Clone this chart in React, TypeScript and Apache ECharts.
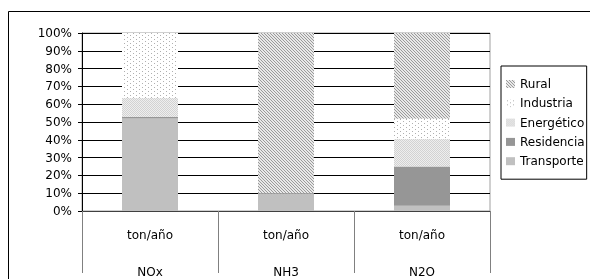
import React, { useEffect, useRef } from "react";
import * as echarts from "echarts";

const categories = ["NOx", "NH3", "N2O"];
const unitLabel = "ton/año";
const yTicks = [0, 10, 20, 30, 40, 50, 60, 70, 80, 90, 100];
const transporte = [52, 10, 3];
const residencia = [1, 0, 22];
const energetico = [10.5, 0, 15.5];
const industria = [36.5, 0, 11.3];
const rural = [0, 90, 48.2];
const legendOrder = ["Rural", "Industria", "Energético", "Residencia", "Transporte"];

function makeTile(w: number, h: number, bg: string, fg: string, on: (x: number, y: number) => boolean) {
  const c = document.createElement("canvas");
  c.width = w;
  c.height = h;
  const ctx = c.getContext("2d")!;
  ctx.fillStyle = bg;
  ctx.fillRect(0, 0, w, h);
  ctx.fillStyle = fg;
  for (let y = 0; y < h; y++) {
    for (let x = 0; x < w; x++) {
      if (on(x, y)) ctx.fillRect(x, y, 1, 1);
    }
  }
  return c;
}

export default function App() {
  const ref = useRef<HTMLDivElement>(null);
  useEffect(() => {
    if (!ref.current) return;
    const chart = echarts.init(ref.current, null, { renderer: "svg" });
    const font = "DejaVu Sans";
    const ruralTile = makeTile(3, 3, "#e8e8e8", "#9a9a9a", (x, y) => (x - y + 3) % 3 === 0);
    const industriaTile = makeTile(6, 4, "#ffffff", "#b0b0b0", (x, y) => (x === 1 && y === 1) || (x === 4 && y === 3));
    const energeticoTile = makeTile(2, 2, "#eeeeee", "#d2d2d2", (x, y) => x === y);
    const pat = (c: HTMLCanvasElement) => ({ image: c, repeat: "repeat" } as any);

    const mk = (name: string, data: number[], color: any) => ({
      name,
      type: "bar",
      stack: "total",
      barWidth: 56,
      data,
      itemStyle: { color },
      emphasis: { disabled: true },
    });

    chart.setOption({
      animation: false,
      textStyle: { fontFamily: font },
      graphic: [
        {
          type: "rect",
          shape: { x: 8.5, y: 11.5, width: 800, height: 400 },
          style: { fill: "none", stroke: "#000", lineWidth: 1 },
          silent: true,
          z: 0,
        },
      ],
      grid: {
        left: 82,
        top: 33,
        width: 408,
        height: 178,
        show: true,
        borderColor: "#a0a0a0",
        borderWidth: 1,
        backgroundColor: "transparent",
        outerBoundsMode: "none",
        containLabel: false,
      },
      legend: {
        orient: "vertical",
        left: 501,
        top: 66,
        padding: [11, 2, 11, 5],
        itemWidth: 9,
        itemHeight: 8,
        itemGap: 5.3,
        icon: "rect",
        borderColor: "#000",
        borderWidth: 1,
        data: legendOrder,
        textStyle: { fontFamily: font, fontSize: 12, color: "#000", lineHeight: 14 },
        selectedMode: false,
      },
      xAxis: [
        {
          type: "category",
          data: categories,
          position: "bottom",
          axisLine: { lineStyle: { color: "#404040", width: 1 } },
          axisTick: { show: true, length: 62, alignWithLabel: false, interval: 0, lineStyle: { color: "#808080" } },
          axisLabel: {
            formatter: () => unitLabel,
            fontFamily: font,
            fontSize: 12,
            color: "#000",
            verticalAlign: "middle",
            margin: 24,
            interval: 0,
          },
        },
        {
          type: "category",
          data: categories,
          position: "bottom",
          offset: 0,
          axisLine: { show: false },
          axisTick: { show: false },
          splitLine: { show: false },
          axisLabel: {
            fontFamily: font,
            fontSize: 12,
            color: "#000",
            verticalAlign: "middle",
            margin: 61,
            interval: 0,
          },
        },
      ],
      yAxis: {
        type: "value",
        min: yTicks[0],
        max: yTicks[yTicks.length - 1],
        interval: 10,
        axisLine: { show: true, lineStyle: { color: "#000" } },
        axisTick: { show: true, length: 4, lineStyle: { color: "#000" } },
        axisLabel: { formatter: "{value}%", fontFamily: font, fontSize: 12, color: "#000", margin: 10 },
        splitLine: { show: true, lineStyle: { color: "#000", width: 1 } },
      },
      series: [
        mk("Transporte", transporte, "#c0c0c0"),
        mk("Residencia", residencia, "#969696"),
        mk("Energético", energetico, pat(energeticoTile)),
        mk("Industria", industria, pat(industriaTile)),
        mk("Rural", rural, pat(ruralTile)),
      ],
    });
    return () => chart.dispose();
  }, []);
  return <div ref={ref} style={{ position: "fixed", left: 0, top: 0, width: 590, height: 279 }} />;
}
